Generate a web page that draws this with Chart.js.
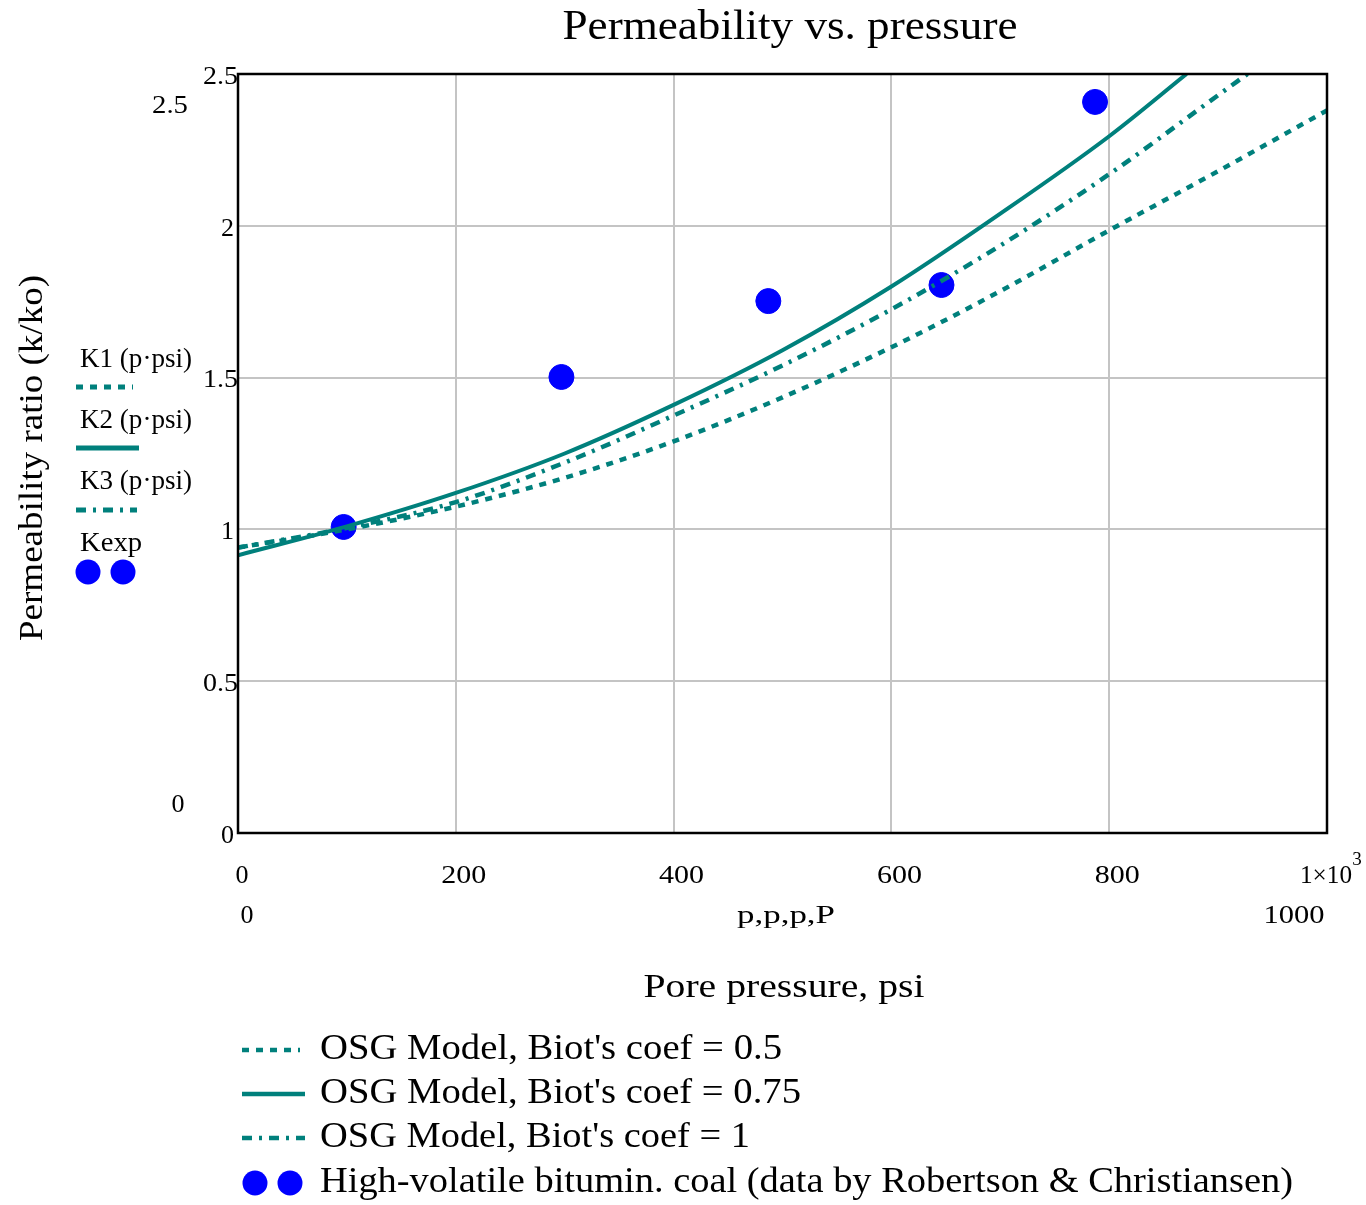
<!DOCTYPE html>
<html>
<head>
<meta charset="utf-8">
<script src="https://cdn.jsdelivr.net/npm/chart.js@4/dist/chart.umd.min.js"></script>
<style>
  html, body { margin: 0; padding: 0; background: #fff; }
  canvas { display: block; }
</style>
</head>
<body>
<canvas id="permChart" width="1366" height="1205"></canvas>
<script>
// values
const pressure = [0, 100, 200, 300, 400, 500, 600, 700, 800, 900, 1000];
const k1 = [0.94, 1.0, 1.075, 1.17, 1.29, 1.435, 1.60, 1.785, 1.985, 2.18, 2.38];

const pressureK2 = [0, 100, 200, 300, 400, 500, 600, 700, 800, 871];
const k2 = [0.915, 1.01, 1.12, 1.25, 1.41, 1.59, 1.80, 2.04, 2.295, 2.5];

const pressureK3 = [0, 100, 200, 300, 400, 500, 600, 700, 800, 900, 927];
const k3 = [0.94, 1.005, 1.09, 1.22, 1.375, 1.54, 1.725, 1.935, 2.17, 2.43, 2.5];

const expPressure = [97, 297, 487, 646, 787];
const kExp = [1.008, 1.502, 1.752, 1.805, 2.408];

const xTicks = [0, 200, 400, 600, 800];
const yTicks = ['0', '0.5', '1', '1.5', '2', '2.5'];

const legendLabels = [
  "OSG Model, Biot's coef = 0.5",
  "OSG Model, Biot's coef = 0.75",
  "OSG Model, Biot's coef = 1",
  "High-volatile bitumin. coal (data by Robertson & Christiansen)"
];
const sideLabels = ['K1 (p\u00b7psi)', 'K2 (p\u00b7psi)', 'K3 (p\u00b7psi)', 'Kexp'];

const teal = '#00807c';
const blue = '#0000ff';
const serif = '"Liberation Serif", "DejaVu Serif", serif';
const dotDash = [7, 7];
const dashDot = [10, 7, 3, 7];

function toPoints(xs, ys) {
  return xs.map((x, i) => ({ x: x, y: ys[i] }));
}

// draw text, squeezed/stretched to a target width when given
function txt(ctx, s, x, y, size, align, width) {
  ctx.save();
  ctx.font = size + 'px ' + serif;
  ctx.fillStyle = '#000';
  ctx.textBaseline = 'middle';
  const w = ctx.measureText(s).width;
  const sx = width ? width / w : 1;
  let left = x;
  const real = w * sx;
  if (align === 'center') left = x - real / 2;
  else if (align === 'right') left = x - real;
  ctx.translate(left, y);
  ctx.scale(sx, 1);
  ctx.textAlign = 'left';
  ctx.fillText(s, 0, 0);
  ctx.restore();
}

function sample(ctx, x1, x2, y, dash, lw) {
  ctx.save();
  ctx.strokeStyle = teal;
  ctx.lineWidth = lw;
  ctx.setLineDash(dash);
  ctx.beginPath();
  ctx.moveTo(x1, y);
  ctx.lineTo(x2, y);
  ctx.stroke();
  ctx.restore();
}

function dot(ctx, x, y) {
  ctx.save();
  ctx.fillStyle = blue;
  ctx.beginPath();
  ctx.arc(x, y, 12.5, 0, Math.PI * 2);
  ctx.fill();
  ctx.restore();
}

const decorations = {
  id: 'decorations',
  afterDraw(chart) {
    const ctx = chart.ctx;
    const a = chart.chartArea;
    const xs = chart.scales.x;
    const ys = chart.scales.y;

    // frame
    ctx.save();
    ctx.strokeStyle = '#000';
    ctx.lineWidth = 2.5;
    ctx.strokeRect(a.left, a.top, a.right - a.left, a.bottom - a.top);
    ctx.restore();

    // title and axis titles
    txt(ctx, 'Permeability vs. pressure', 790, 28, 42, 'center', 455);
    txt(ctx, 'Pore pressure, psi', 784, 988, 34, 'center', 281);
    ctx.save();
    ctx.translate(33, 458);
    ctx.rotate(-Math.PI / 2);
    txt(ctx, 'Permeability ratio (k/ko)', 0, 0, 34, 'center', 366);
    ctx.restore();

    // y tick labels
    yTicks.forEach(t => {
      const w = t.length > 1 ? 35 : null;
      txt(ctx, t, a.left - (t.length > 1 ? 0 : 4), ys.getPixelForValue(parseFloat(t)) + 3, 26, 'right', w);
    });
    txt(ctx, '2.5', 170, 106, 26, 'center', 36);
    txt(ctx, '0', 178, 805, 26, 'center');

    // x tick labels
    xTicks.forEach(t => {
      const off = t === 0 ? 4 : 8;
      txt(ctx, String(t), xs.getPixelForValue(t) + off, 876, 26, 'center', t === 0 ? null : 45);
    });
    txt(ctx, '1\u00d710', 1326, 876, 26, 'center', 52);
    txt(ctx, '3', 1357, 860, 19, 'center');
    txt(ctx, '0', 247, 916, 26, 'center');
    txt(ctx, 'p,p,p,P', 786, 916, 26, 'center', 98);
    txt(ctx, '1000', 1294, 916, 26, 'center', 61);

    // side legend
    const sideY = [360, 421, 482, 544];
    const sideW = [112, 112, 112, 62];
    sideLabels.forEach((s, i) => txt(ctx, s, 80, sideY[i], 27, 'left', sideW[i]));
    sample(ctx, 76, 133, 387, dotDash, 5);
    sample(ctx, 76, 139, 448, [], 5);
    sample(ctx, 76, 137, 510, dashDot, 5);
    dot(ctx, 88, 572);
    dot(ctx, 123, 572);

    // bottom legend
    const legY = [1050, 1094, 1138, 1183];
    const legW = [462, 481, 430, 973];
    legendLabels.forEach((s, i) => txt(ctx, s, 320, legY[i], 35, 'left', legW[i]));
    sample(ctx, 242, 300, 1050, dotDash, 4.5);
    sample(ctx, 242, 305, 1094, [], 4.5);
    sample(ctx, 242, 305, 1138, dashDot, 4.5);
    dot(ctx, 255, 1183);
    dot(ctx, 290, 1183);
  }
};

const ctx = document.getElementById('permChart').getContext('2d');

new Chart(ctx, {
  type: 'scatter',
  data: {
    datasets: [
      {
        label: 'K1',
        data: toPoints(pressure, k1),
        showLine: true,
        borderColor: teal,
        borderWidth: 4.5,
        borderDash: dotDash,
        pointRadius: 0,
        cubicInterpolationMode: 'monotone'
      },
      {
        label: 'K2',
        data: toPoints(pressureK2, k2),
        showLine: true,
        borderColor: teal,
        borderWidth: 4,
        pointRadius: 0,
        cubicInterpolationMode: 'monotone'
      },
      {
        label: 'K3',
        data: toPoints(pressureK3, k3),
        showLine: true,
        borderColor: teal,
        borderWidth: 4.5,
        borderDash: dashDot,
        pointRadius: 0,
        cubicInterpolationMode: 'monotone'
      },
      {
        label: 'Kexp',
        data: toPoints(expPressure, kExp),
        showLine: false,
        backgroundColor: blue,
        borderColor: blue,
        pointRadius: 12.5,
        pointHoverRadius: 12.5
      }
    ]
  },
  options: {
    responsive: false,
    animation: false,
    devicePixelRatio: 1,
    layout: {
      padding: { left: 238, right: 39, top: 74, bottom: 372 }
    },
    plugins: {
      legend: { display: false },
      tooltip: { enabled: false }
    },
    scales: {
      x: {
        type: 'linear',
        min: 0,
        max: 1000,
        border: { display: false },
        grid: { color: '#c4c4c4', lineWidth: 2, drawTicks: false },
        ticks: { display: false, stepSize: 200 }
      },
      y: {
        type: 'linear',
        min: 0,
        max: 2.5,
        border: { display: false },
        grid: { color: '#c4c4c4', lineWidth: 2, drawTicks: false },
        ticks: { display: false, stepSize: 0.5 }
      }
    }
  },
  plugins: [decorations]
});
</script>
</body>
</html>
